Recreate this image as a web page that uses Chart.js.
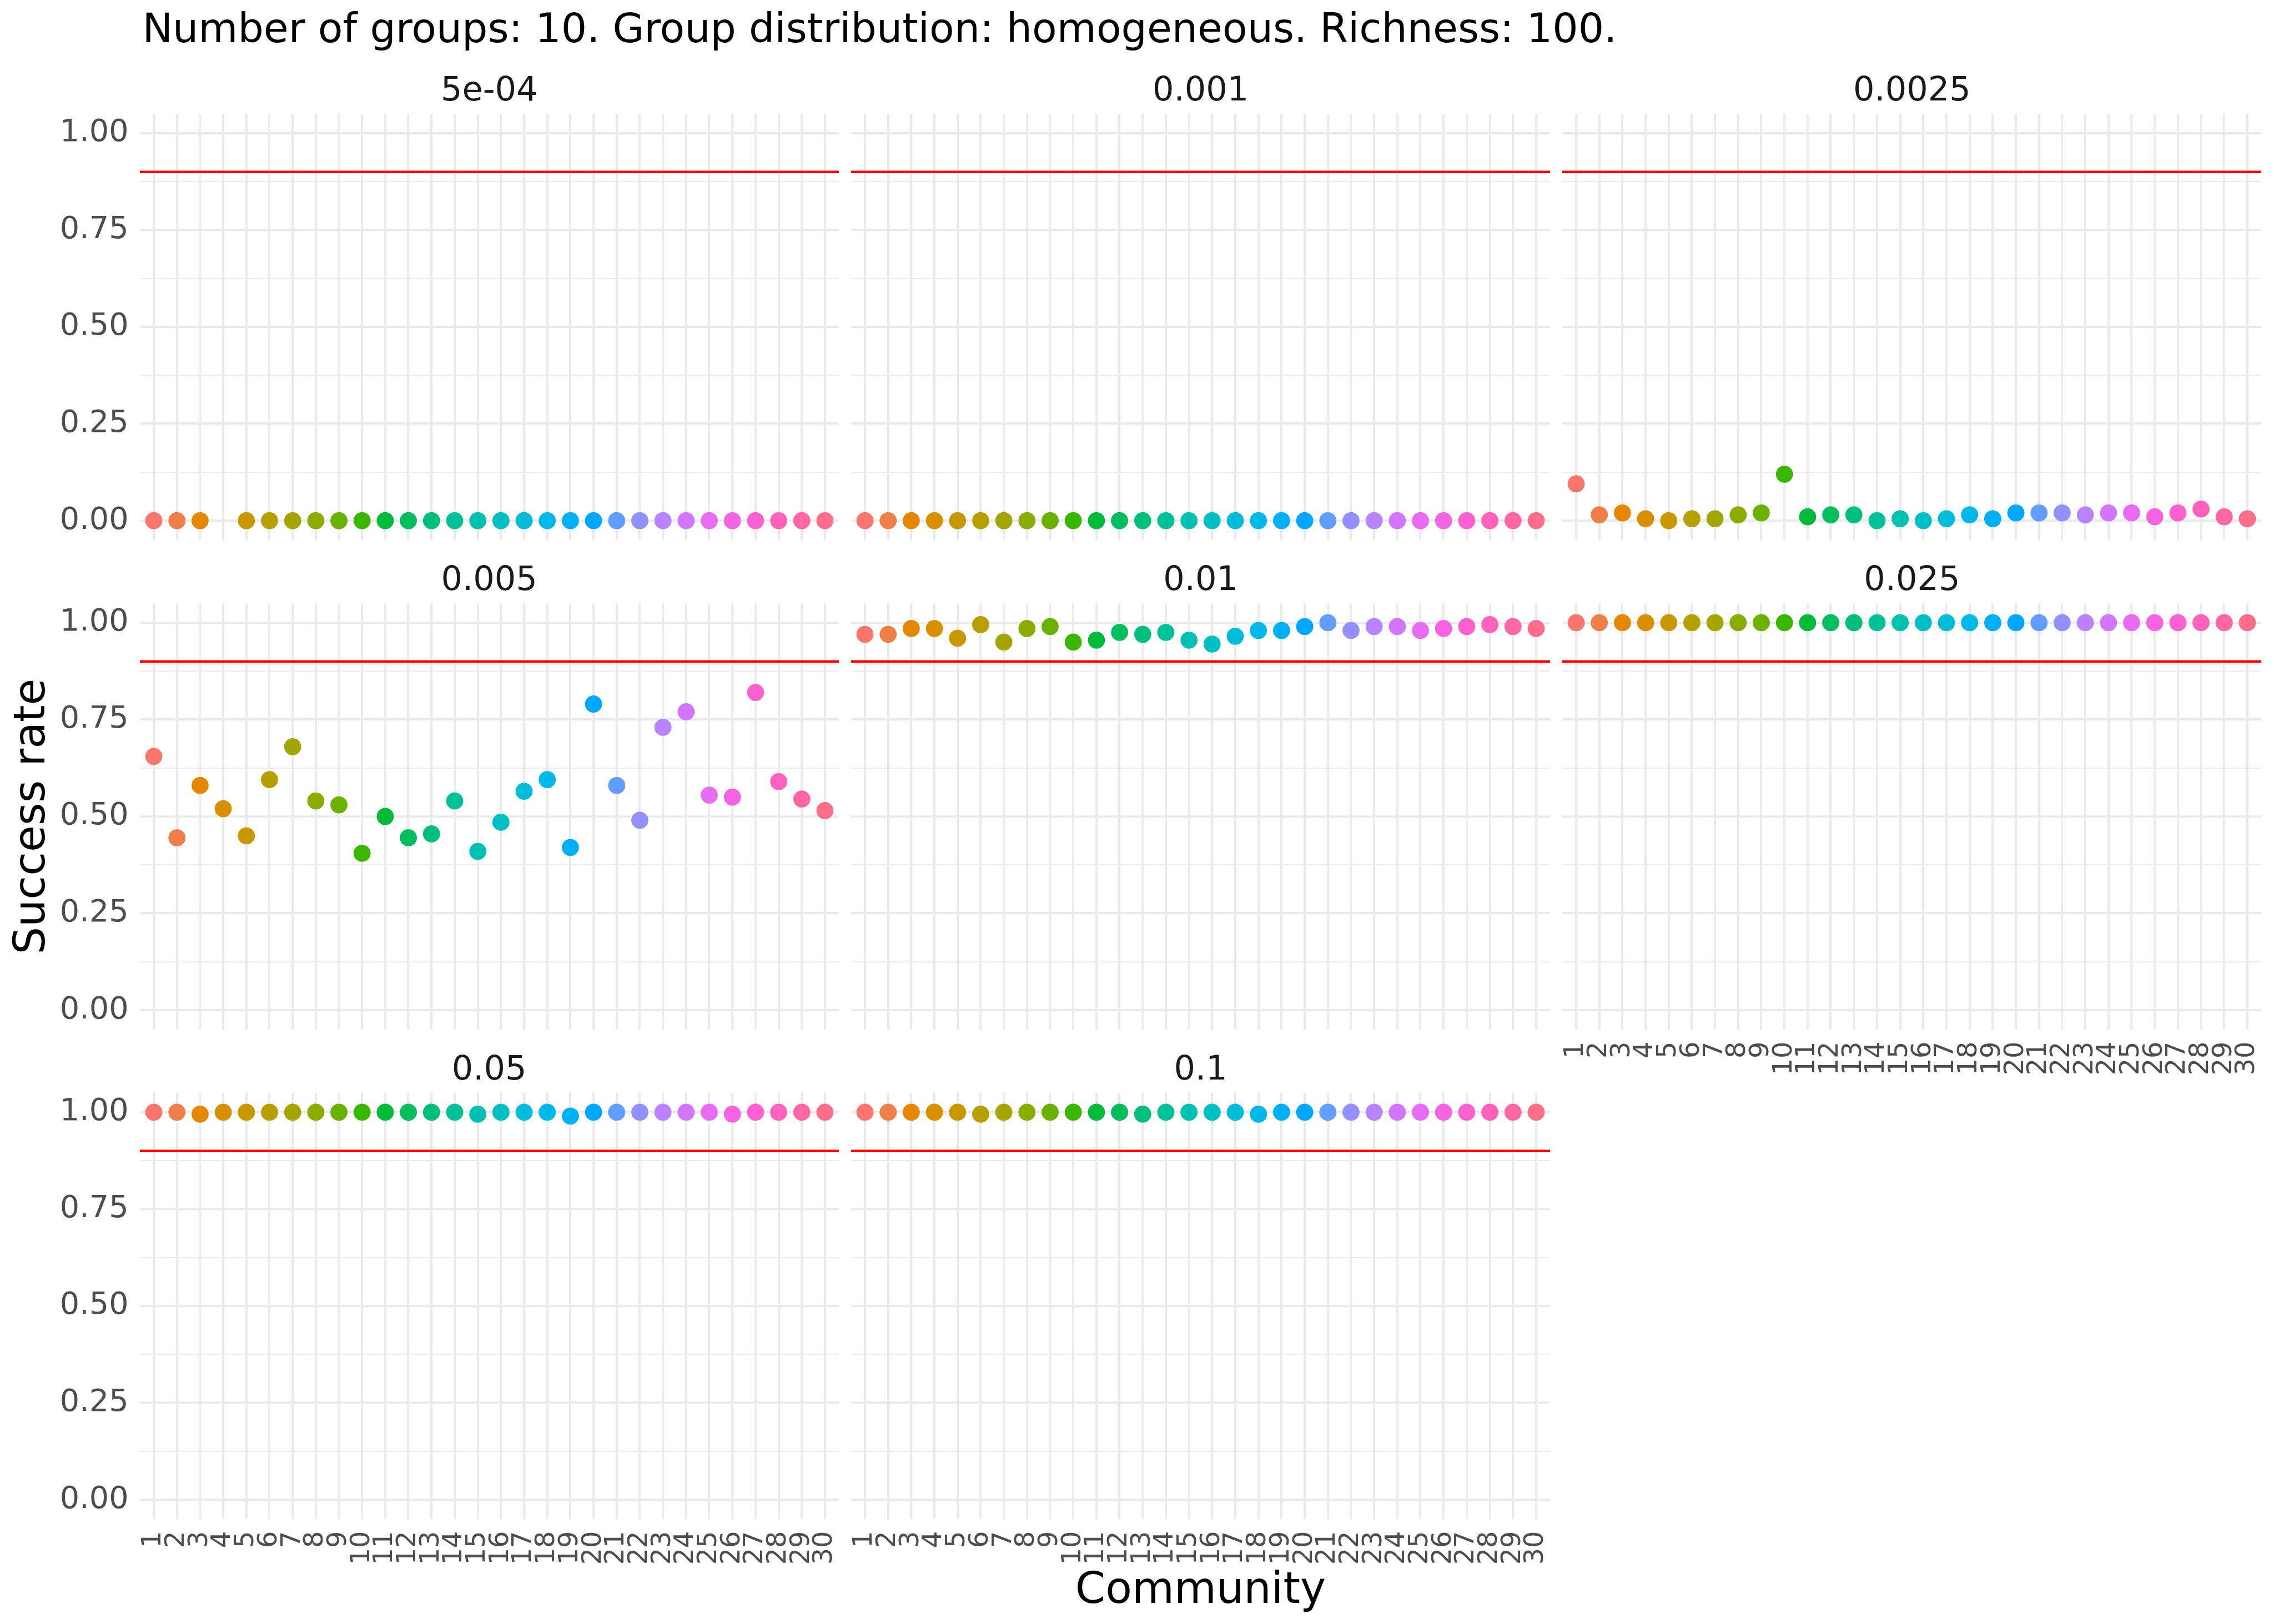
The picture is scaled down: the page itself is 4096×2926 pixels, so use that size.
<!DOCTYPE html>
<html><head><meta charset="utf-8">
<script src="https://cdn.jsdelivr.net/npm/chart.js@4.4.1/dist/chart.umd.min.js"></script>
<style>
html,body{margin:0;padding:0;background:#fff;}
#fig{position:relative;width:4096px;height:2926px;overflow:hidden;background:#fff;}
.txt{position:absolute;white-space:nowrap;line-height:1;font-family:'DejaVu Sans';}
canvas{position:absolute;}
</style></head><body><div id="fig"></div>
<script>
// ---------------- data ----------------
const figureTitle = 'Number of groups: 10. Group distribution: homogeneous. Richness: 100.';
const xAxisTitle = 'Community';
const yAxisTitle = 'Success rate';
const communities = [1,2,3,4,5,6,7,8,9,10,11,12,13,14,15,16,17,18,19,20,21,22,23,24,25,26,27,28,29,30];
const panelLabels = ['5e-04','0.001','0.0025','0.005','0.01','0.025','0.05','0.1'];
const rate_5e04 = [0,0,0,null,0,0,0,0,0,0, 0,0,0,0,0,0,0,0,0,0, 0,0,0,0,0,0,0,0,0,0];
const rate_0001 = [0,0,0,0,0,0,0,0,0,0, 0,0,0,0,0,0,0,0,0,0, 0,0,0,0,0,0,0,0,0,0];
const rate_00025 = [0.095,0.015,0.02,0.005,0,0.005,0.005,0.015,0.02,0.12, 0.01,0.015,0.015,0,0.005,0,0.005,0.015,0.005,0.02, 0.02,0.02,0.015,0.02,0.02,0.01,0.02,0.03,0.01,0.005];
const rate_0005 = [0.655,0.445,0.58,0.52,0.45,0.595,0.68,0.54,0.53,0.405, 0.5,0.445,0.455,0.54,0.41,0.485,0.565,0.595,0.42,0.79, 0.58,0.49,0.73,0.77,0.555,0.55,0.82,0.59,0.545,0.515];
const rate_001 = [0.97,0.97,0.985,0.985,0.96,0.995,0.95,0.985,0.99,0.95, 0.955,0.975,0.97,0.975,0.955,0.945,0.965,0.98,0.98,0.99, 1,0.98,0.99,0.99,0.98,0.985,0.99,0.995,0.99,0.985];
const rate_0025 = [1,1,1,1,1,1,1,1,1,1, 1,1,1,1,1,1,1,1,1,1, 1,1,1,1,1,1,1,1,1,1];
const rate_005 = [1,1,0.995,1,1,1,1,1,1,1, 1,1,1,1,0.995,1,1,1,0.99,1, 1,1,1,1,1,0.995,1,1,1,1];
const rate_01 = [1,1,1,1,1,0.995,1,1,1,1, 1,1,0.995,1,1,1,1,0.995,1,1, 1,1,1,1,1,1,1,1,1,1];
const yTicks = [0,0.25,0.5,0.75,1];
const yTickLabels = ['0.00','0.25','0.50','0.75','1.00'];
const yMinorTicks = [0.125,0.375,0.625,0.875];
const threshold = 0.9;

// ---------------- style / layout ----------------
const S = 0.975;
const FAM = "'DejaVu Sans'";
const colLeft = [258.1, 1572.3, 2886.4].map(v => v * S);
const rowTop = [210.2, 1115, 2019.7].map(v => v * S);
const panelW = 1291.4 * S, panelH = 787.6 * S;
const YW = 240, XH = 130;
const GRID = '#EBEBEB';
const MAJOR_W = 4.3 * S, MINOR_W = 2.15 * S;

function hclHex(h, c, l) {
  const WY = 100, Wu = 0.1978398, Wv = 0.4683363;
  const hr = h * Math.PI / 180;
  const U = c * Math.cos(hr), V = c * Math.sin(hr);
  const Y = WY * (l > 7.999592 ? Math.pow((l + 16) / 116, 3) : l / 903.3);
  const u = U / (13 * l) + Wu, v = V / (13 * l) + Wv;
  const X = 9 * Y * u / (4 * v);
  const Z = -X / 3 - 5 * Y + 3 * Y / v;
  const g = t => t > 0.00304 ? 1.055 * Math.pow(t, 1 / 2.4) - 0.055 : 12.92 * t;
  const r = g((3.240479 * X - 1.537150 * Y - 0.498535 * Z) / WY);
  const gg = g((-0.969256 * X + 1.875992 * Y + 0.041556 * Z) / WY);
  const b = g((0.055648 * X - 0.204043 * Y + 1.057311 * Z) / WY);
  const to = t => Math.round(Math.min(1, Math.max(0, t)) * 255).toString(16).padStart(2, '0');
  return '#' + to(r) + to(gg) + to(b);
}
const palette = communities.map((c, i) => hclHex((15 + 360 * i / communities.length) % 360, 100, 65));

const fig = document.getElementById('fig');
function addText(txt, css) {
  const d = document.createElement('div');
  d.className = 'txt';
  d.textContent = txt;
  Object.assign(d.style, css);
  fig.appendChild(d);
  return d;
}

// figure title
addText(figureTitle, {left: (263 * S) + 'px', top: (76 - 0.846 * 73) + 'px', fontSize: '73px', color: '#000'});
// axis titles
addText(xAxisTitle, {left: ((colLeft[0] + colLeft[2] + panelW) / 2) + 'px', top: (2887.6 - 0.846 * 78) + 'px', fontSize: '78px', color: '#000', transform: 'translateX(-50%)'});
addText(yAxisTitle, {left: '52.7px', top: ((rowTop[0] + rowTop[2] + panelH) / 2) + 'px', fontSize: '78px', color: '#000', transform: 'translate(-50%,-50%) rotate(-90deg)'});

const hlinePlugin = {
  id: 'hline',
  afterDatasetsDraw(chart) {
    const {ctx, chartArea, scales} = chart;
    const py = scales.y.getPixelForValue(threshold);
    ctx.save();
    ctx.strokeStyle = '#FF0000';
    ctx.lineWidth = 4.6 * S;
    ctx.beginPath();
    ctx.moveTo(chartArea.left, py);
    ctx.lineTo(chartArea.right, py);
    ctx.stroke();
    ctx.restore();
  }
};

const panelRates = [rate_5e04, rate_0001, rate_00025, rate_0005, rate_001, rate_0025, rate_005, rate_01];
const yAllTicks = [...yTicks, ...yMinorTicks].sort((a, b) => a - b);
const ySpan = yTicks[yTicks.length - 1] - yTicks[0];

panelRates.forEach((rates, p) => {
  const row = Math.floor(p / 3), col = p % 3;
  const showY = col === 0;
  const showX = (p + 3) >= panelRates.length;
  // strip label
  const baseline = rowTop[row] - 23.6;
  addText(panelLabels[p], {left: colLeft[col] + 'px', width: panelW + 'px', textAlign: 'center', top: (baseline - 0.846 * 60.5) + 'px', fontSize: '60.5px', color: '#1A1A1A'});

  const cv = document.createElement('canvas');
  const w = Math.round(panelW + (showY ? YW : 0));
  const h = Math.round(panelH + (showX ? XH : 0));
  cv.width = w; cv.height = h;
  cv.style.width = w + 'px'; cv.style.height = h + 'px';
  cv.style.left = (colLeft[col] - (showY ? YW : 0)) + 'px';
  cv.style.top = rowTop[row] + 'px';
  fig.appendChild(cv);

  new Chart(cv, {
    type: 'scatter',
    data: {
      datasets: [{
        data: communities.map((c, i) => ({x: c, y: rates[i]})),
        backgroundColor: communities.map((c, i) => palette[i]),
        pointRadius: 15.8 * S,
        pointHoverRadius: 15.8 * S,
        borderWidth: 0
      }]
    },
    options: {
      responsive: false, maintainAspectRatio: false, animation: false, devicePixelRatio: 1,
      events: [],
      layout: {padding: 0, autoPadding: false},
      plugins: {legend: {display: false}, tooltip: {enabled: false}, title: {display: false}},
      scales: {
        x: {
          type: 'linear', position: 'bottom',
          min: communities[0] - 0.6, max: communities[communities.length - 1] + 0.6,
          afterBuildTicks: ax => { ax.ticks = communities.map(v => ({value: v})); },
          afterFit: sc => { sc.height = showX ? XH : 0; sc.paddingLeft = 0; sc.paddingRight = 0; },
          grid: {color: GRID, lineWidth: MAJOR_W, drawTicks: false},
          border: {display: false},
          ticks: {display: showX, autoSkip: false, minRotation: 90, maxRotation: 90, padding: 21.5,
                  color: '#4D4D4D', font: {family: FAM, size: 47.8}, callback: v => String(v)}
        },
        y: {
          type: 'linear', position: 'left',
          min: yTicks[0] - 0.05 * ySpan, max: yTicks[yTicks.length - 1] + 0.05 * ySpan,
          afterBuildTicks: ax => { ax.ticks = yAllTicks.map(v => ({value: v})); },
          afterFit: sc => { sc.width = showY ? YW : 0; sc.paddingTop = 0; sc.paddingBottom = 0; },
          grid: {color: GRID, drawTicks: false,
                 lineWidth: ctx => (ctx.tick && yTicks.includes(ctx.tick.value)) ? MAJOR_W : MINOR_W},
          border: {display: false},
          ticks: {display: showY, padding: 20.5, color: '#4D4D4D', font: {family: FAM, size: 55.6},
                  callback: v => { const k = yTicks.indexOf(v); return k >= 0 ? yTickLabels[k] : ''; }}
        }
      }
    },
    plugins: [hlinePlugin]
  });
});
</script></body></html>
